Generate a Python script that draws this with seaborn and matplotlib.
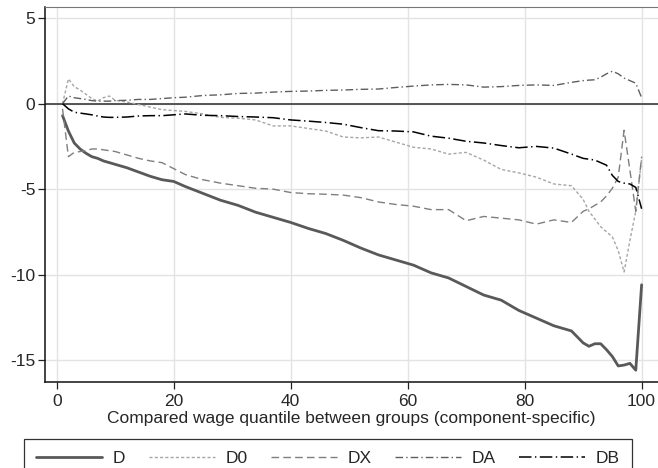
import numpy as np
import matplotlib
matplotlib.use("Agg")
import matplotlib.pyplot as plt
import seaborn as sns

q = [1, 2, 3, 4, 5, 6, 7, 8, 9, 10, 12, 14, 16, 18, 20, 22, 25, 28, 31, 34,
     37, 40, 43, 46, 49, 52, 55, 58, 61, 64, 67, 70, 73, 76, 79, 82, 85, 88,
     90, 91, 92, 93, 94, 95, 96, 97, 98, 99, 100]

d = [-0.7, -1.6, -2.3, -2.65, -2.9, -3.1, -3.2, -3.35, -3.45, -3.55, -3.75, -4.0,
     -4.25, -4.45, -4.55, -4.85, -5.25, -5.65, -5.95, -6.35, -6.65, -6.95, -7.3,
     -7.6, -8.0, -8.45, -8.85, -9.15, -9.45, -9.9, -10.2, -10.7, -11.2, -11.5,
     -12.1, -12.55, -13.0, -13.3, -14.0, -14.2, -14.05, -14.05, -14.4, -14.8,
     -15.35, -15.3, -15.2, -15.6, -10.6]

d0 = [0.0, 1.45, 1.0, 0.8, 0.55, 0.3, 0.15, 0.35, 0.45, 0.2, 0.1, -0.05, -0.2,
      -0.35, -0.4, -0.45, -0.6, -0.8, -0.85, -0.95, -1.3, -1.3, -1.45, -1.6,
      -1.95, -2.0, -1.95, -2.25, -2.55, -2.65, -2.95, -2.85, -3.3, -3.85, -4.05,
      -4.3, -4.7, -4.8, -5.6, -6.3, -6.75, -7.2, -7.5, -7.8, -8.6, -9.85, -8.0,
      -6.3, -3.2]

dx = [-0.3, -3.1, -2.85, -2.8, -2.75, -2.65, -2.65, -2.7, -2.75, -2.8, -3.0, -3.2,
      -3.35, -3.45, -3.8, -4.15, -4.45, -4.65, -4.8, -4.95, -5.0, -5.2, -5.27,
      -5.3, -5.35, -5.5, -5.75, -5.9, -6.0, -6.2, -6.2, -6.85, -6.6, -6.7, -6.8,
      -7.05, -6.8, -6.95, -6.3, -6.15, -5.95, -5.75, -5.4, -4.95, -4.3, -1.56,
      -3.9, -6.3, -3.1]

da = [0.0, 0.45, 0.35, 0.3, 0.25, 0.18, 0.15, 0.15, 0.15, 0.18, 0.2, 0.25, 0.25,
      0.3, 0.35, 0.38, 0.48, 0.52, 0.6, 0.62, 0.68, 0.72, 0.74, 0.78, 0.8, 0.84,
      0.86, 0.95, 1.03, 1.1, 1.13, 1.1, 0.97, 1.0, 1.07, 1.1, 1.07, 1.25, 1.35,
      1.38, 1.4, 1.55, 1.75, 1.9, 1.75, 1.5, 1.35, 1.2, 0.35]

db = [0.0, -0.3, -0.5, -0.55, -0.6, -0.65, -0.72, -0.78, -0.8, -0.8, -0.78, -0.72,
      -0.7, -0.7, -0.65, -0.6, -0.68, -0.7, -0.75, -0.78, -0.82, -0.95, -1.02,
      -1.1, -1.2, -1.4, -1.58, -1.6, -1.65, -1.9, -2.02, -2.2, -2.3, -2.45, -2.58,
      -2.5, -2.6, -2.95, -3.2, -3.25, -3.3, -3.45, -3.6, -4.2, -4.55, -4.65, -4.7,
      -4.9, -6.15]

labels = ["D", "D0", "DX", "DA", "DB"]
xticks = [0, 20, 40, 60, 80, 100]
yticks = [5, 0, -5, -10, -15]

sns.set_style("white")
plt.rcParams["font.family"] = ["Liberation Sans", "DejaVu Sans"]
plt.rcParams["lines.scale_dashes"] = False
FS = 12.5

fig = plt.figure(figsize=(6.58, 4.68), dpi=100)
ax = fig.add_axes([45 / 658, 86 / 468, 1 - 45 / 658, 375 / 468])

styles = [
    dict(color="#595959", lw=2.0, ls="-"),
    dict(color="#a6a6a6", lw=1.0, ls=(0, (2.2, 1.6))),
    dict(color="#7f7f7f", lw=1.0, ls=(0, (5.5, 3.0))),
    dict(color="#5f5f5f", lw=1.0, ls=(0, (5.5, 2.2, 1.0, 2.2))),
    dict(color="#000000", lw=1.1, ls=(0, (9.0, 2.5, 1.0, 2.5))),
]
series = [d, d0, dx, da, db]

ax.axhline(0, color="#3a3a3a", lw=1.2, zorder=1)
for vals, lab, st in zip(series, labels, styles):
    sns.lineplot(x=q, y=vals, ax=ax, label=lab, color=st["color"],
                 linewidth=st["lw"], linestyle=st["ls"], zorder=3)

ax.set_xlim(-2, 102.8)
ax.set_ylim(-16.29, 5.66)
ax.set_xticks(xticks)
ax.set_yticks(yticks)
ax.set_yticklabels([str(t) for t in yticks])
ax.grid(True, color="#e3e3e3", lw=1.0)
ax.set_axisbelow(True)
ax.tick_params(axis="both", labelsize=FS, length=5, width=0.9,
               color="#222222", direction="out", pad=2)
ax.tick_params(axis="x", bottom=True, pad=3.5)
ax.tick_params(axis="y", left=True)
for side in ["left", "bottom"]:
    ax.spines[side].set_color("#111111")
    ax.spines[side].set_linewidth(1.1)
ax.spines["top"].set_color("#777777")
ax.spines["top"].set_linewidth(0.8)
ax.spines["right"].set_visible(False)

ax.set_xlabel("Compared wage quantile between groups (component-specific)",
              fontsize=FS, labelpad=1.5)
ax.set_ylabel("")

handles, labs = ax.get_legend_handles_labels()
ax.get_legend().remove()
leg_h = 0.085
leg = fig.legend(handles, labs, loc="upper left", ncol=5,
                 bbox_to_anchor=(24 / 658, 1 - 439 / 468 - leg_h, 608 / 658, leg_h),
                 mode="expand", frameon=True, fancybox=False, fontsize=FS,
                 handlelength=3.8, handletextpad=0.6, borderaxespad=0,
                 borderpad=0.7)
leg.get_frame().set_edgecolor("#000000")
leg.get_frame().set_linewidth(0.9)

fig.savefig("out.png", dpi=100)
